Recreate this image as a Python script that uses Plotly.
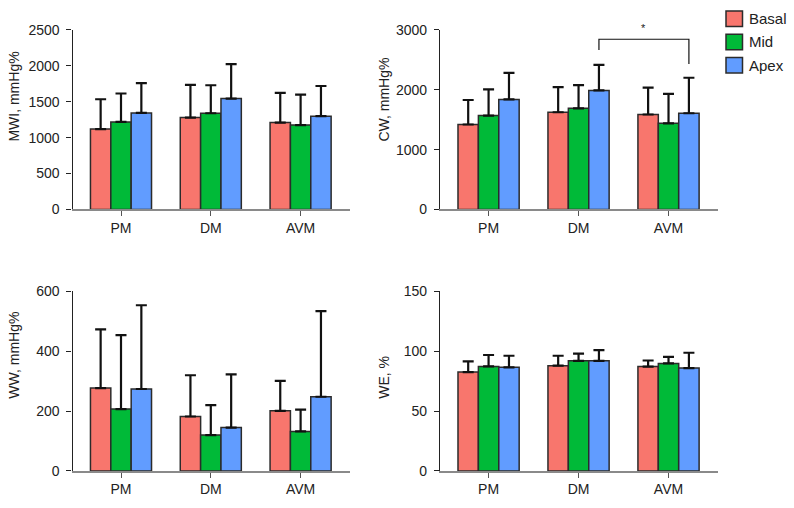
import plotly.graph_objects as go

categories = ["PM", "DM", "AVM"]
series_names = ["Basal", "Mid", "Apex"]
colors = ["#F8766D", "#00BA38", "#619CFF"]

# MWI, mmHg%
mwi_basal = [1120, 1280, 1210]
mwi_mid = [1220, 1340, 1175]
mwi_apex = [1345, 1545, 1300]
mwi_basal_sd = [415, 455, 415]
mwi_mid_sd = [395, 390, 425]
mwi_apex_sd = [415, 480, 420]

# CW, mmHg%
cw_basal = [1420, 1625, 1587]
cw_mid = [1570, 1690, 1440]
cw_apex = [1840, 1990, 1608]
cw_basal_sd = [410, 420, 448]
cw_mid_sd = [438, 387, 492]
cw_apex_sd = [443, 427, 594]

# WW, mmHg%
ww_basal = [277, 182, 201]
ww_mid = [207, 120, 132]
ww_apex = [274, 145, 248]
ww_basal_sd = [196, 138, 100]
ww_mid_sd = [247, 100, 73]
ww_apex_sd = [280, 178, 286]

# WE, %
we_basal = [82.6, 88.0, 87.2]
we_mid = [87.4, 92.0, 89.9]
we_apex = [86.6, 92.0, 86.0]
we_basal_sd = [8.9, 8.3, 5.1]
we_mid_sd = [9.5, 6.0, 5.4]
we_apex_sd = [9.7, 8.9, 12.8]

panels = [
    dict(ax="", title="MWI, mmHg%", rng=[0, 2500], dt=500,
         vals=[mwi_basal, mwi_mid, mwi_apex], sds=[mwi_basal_sd, mwi_mid_sd, mwi_apex_sd]),
    dict(ax="2", title="CW, mmHg%", rng=[0, 3000], dt=1000,
         vals=[cw_basal, cw_mid, cw_apex], sds=[cw_basal_sd, cw_mid_sd, cw_apex_sd]),
    dict(ax="3", title="WW, mmHg%", rng=[0, 600], dt=200,
         vals=[ww_basal, ww_mid, ww_apex], sds=[ww_basal_sd, ww_mid_sd, ww_apex_sd]),
    dict(ax="4", title="WE, %", rng=[0, 150], dt=50,
         vals=[we_basal, we_mid, we_apex], sds=[we_basal_sd, we_mid_sd, we_apex_sd]),
]

W, H = 794, 508
FONT = "Liberation Sans, Arial, Helvetica, sans-serif"

fig = go.Figure()
for p in panels:
    for name, col, v, sd in zip(series_names, colors, p["vals"], p["sds"]):
        fig.add_trace(go.Bar(
            x=categories, y=v, name=name, showlegend=False,
            marker=dict(color=col, line=dict(color="#2b2b2b", width=1.5)),
            error_y=dict(type="data", symmetric=False, array=sd, arrayminus=[0] * len(sd),
                         color="#111111", thickness=2.2, width=5.5),
            xaxis="x" + p["ax"], yaxis="y" + p["ax"],
        ))

xdom_left = [72.5 / W, 350 / W]
xdom_right = [440 / W, 718 / W]
ydom_top = [1 - 208 / H, 1 - 22.7 / H]
ydom_bot = [1 - 478 / H, 1 - 292.7 / H]
doms = [(xdom_left, ydom_top), (xdom_right, ydom_top), (xdom_left, ydom_bot), (xdom_right, ydom_bot)]
# y-title positions (pixel x centre, pixel y of the text start)
title_pos = [(14, 140), (384, 140), (14, 406), (384, 406)]

layout = dict(
    width=W, height=H, margin=dict(l=0, r=0, t=0, b=0),
    paper_bgcolor="white", plot_bgcolor="white",
    barmode="group", bargap=0.32, bargroupgap=0,
    font=dict(family=FONT, size=14, color="#222222"),
    showlegend=False,
)
for p, (xd, yd) in zip(panels, doms):
    a = p["ax"]
    layout["xaxis" + a] = dict(
        domain=xd, anchor="y" + a, range=[-0.54, 2.55], showgrid=False, zeroline=False,
        showline=True, linecolor="#8a8a8a", linewidth=1.5, ticks="outside", ticklen=5,
        tickcolor="#555555", tickwidth=1.2, tickfont=dict(size=14, color="#222222"),
        fixedrange=True,
    )
    layout["yaxis" + a] = dict(
        domain=yd, anchor="x" + a, range=p["rng"], dtick=p["dt"], tick0=0,
        showgrid=False, zeroline=False, showline=True, linecolor="#222222", linewidth=1.3,
        ticks="outside", ticklen=5, tickcolor="#222222", tickwidth=1.2,
        ticklabelstandoff=4, tickfont=dict(size=14, color="#222222"),
        fixedrange=True,
    )
fig.update_layout(**layout)

# y-axis titles
for p, (tx, ty) in zip(panels, title_pos):
    fig.add_annotation(x=tx / W, y=1 - ty / H, xref="paper", yref="paper", text=p["title"],
                       textangle=-90, showarrow=False, xanchor="center", yanchor="bottom",
                       font=dict(size=14, color="#222222"))

# significance bracket between DM Apex and AVM Apex (CW panel)
bw = (1 - 0.32) / 3
x_l = 1 + bw
x_r = 2 + bw
fig.add_shape(type="path", xref="x2", yref="y2",
              path=f"M {x_l},2667 L {x_l},2845 L {x_r},2845 L {x_r},2433",
              line=dict(color="#111111", width=1.2))
fig.add_annotation(x=(x_l + x_r) / 2, y=1 - 21 / H, xref="x2", yref="paper", text="*",
                   showarrow=False, yanchor="middle", font=dict(size=11, color="#222222"))

# legend
leg_y = [11, 35, 59]
for name, col, yc in zip(series_names, colors, leg_y):
    fig.add_shape(type="rect", xref="paper", yref="paper",
                  x0=726 / W, x1=742.5 / W, y0=1 - (yc + 8) / H, y1=1 - (yc - 8) / H,
                  fillcolor=col, line=dict(color="#2b2b2b", width=1.5))
    fig.add_annotation(x=747 / W, y=1 - yc / H, xref="paper", yref="paper", text=name,
                       showarrow=False, xanchor="left", yanchor="middle",
                       font=dict(size=15, color="#222222"))

fig.write_html("out.html", config={"displayModeBar": False},
               post_script="document.body.style.margin='0';")
